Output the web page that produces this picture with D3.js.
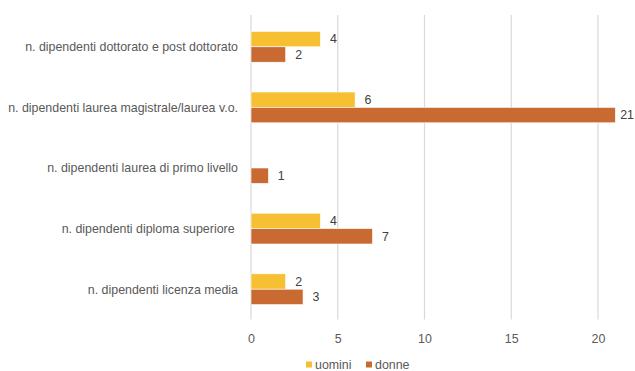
<!DOCTYPE html>
<html>
<head>
<meta charset="utf-8">
<script src="https://cdn.jsdelivr.net/npm/d3@7"></script>
<style>
  html, body { margin: 0; padding: 0; background: #fff; }
  svg { display: block; font-family: "Liberation Sans", Arial, sans-serif; }
</style>
</head>
<body>
<svg id="chart" width="635" height="371"></svg>
<script>
// Categories, top to bottom
const categories = [
  "n. dipendenti dottorato e post dottorato",
  "n. dipendenti laurea magistrale/laurea v.o.",
  "n. dipendenti laurea di primo livello",
  "n. dipendenti diploma superiore ",
  "n. dipendenti licenza media"
];
const uomini = [4, 6, null, 4, 2];
const donne  = [2, 21, 1, 7, 3];
const seriesNames = ["uomini", "donne"];
const xTicks = [0, 5, 10, 15, 20];

const colors = { uomini: "#F7C033", donne: "#C96A33" };

const svg = d3.select("#chart");
const W = 635, H = 371;
const margin = { top: 16.5, right: 0, bottom: 51.5, left: 251 };
const plotBottom = H - margin.bottom;
const fontSize = 12.4;

const x = d3.scaleLinear().domain([0, 20]).range([margin.left, 598]);
const y = d3.scaleBand().domain(categories).range([margin.top, plotBottom]);
// each bar takes about a quarter of its category band
const barH = y.bandwidth() * 0.254;
const inner = d3.scaleBand().domain(seriesNames)
  .range([y.bandwidth() / 2 - barH, y.bandwidth() / 2 + barH]);

// vertical gridlines
svg.append("g")
  .selectAll("line")
  .data(xTicks)
  .join("line")
  .attr("x1", d => x(d)).attr("x2", d => x(d))
  .attr("y1", 15).attr("y2", plotBottom)
  .attr("stroke", "#D9D9D9").attr("stroke-width", 1.2);

// x axis labels
const xAxis = d3.axisBottom(x).tickValues(xTicks).tickSize(0).tickPadding(0);
const gx = svg.append("g").attr("transform", `translate(0,${plotBottom + 23})`).call(xAxis);
gx.select(".domain").remove();
gx.selectAll("text").attr("fill", "#595959").attr("font-size", fontSize)
  .attr("font-family", "Liberation Sans, Arial, sans-serif").attr("dy", "0");

// category labels
svg.append("g")
  .selectAll("text")
  .data(categories)
  .join("text")
  .attr("x", 238)
  .attr("y", d => y(d) + y.bandwidth() / 2)
  .attr("dy", "0.35em")
  .attr("text-anchor", "end")
  .attr("fill", "#595959")
  .attr("font-size", fontSize)
  .style("white-space", "pre")
  .text(d => d);

// bars
const rows = [];
categories.forEach((c, i) => {
  rows.push({ cat: c, s: "uomini", v: uomini[i] });
  rows.push({ cat: c, s: "donne", v: donne[i] });
});
const present = rows.filter(r => r.v != null);

svg.append("g")
  .selectAll("rect")
  .data(present)
  .join("rect")
  .attr("x", x(0))
  .attr("y", d => y(d.cat) + inner(d.s))
  .attr("width", d => x(d.v) - x(0))
  .attr("height", inner.bandwidth())
  .attr("fill", d => colors[d.s])
  .attr("stroke", "#fff")
  .attr("stroke-width", 0.6);

// value labels, kept inside the drawing width
svg.append("g")
  .selectAll("text")
  .data(present)
  .join("text")
  .attr("y", d => y(d.cat) + inner(d.s) + inner.bandwidth() / 2)
  .attr("dy", "0.35em")
  .attr("fill", "#404040")
  .attr("font-size", fontSize)
  .text(d => d.v)
  .attr("x", function (d) {
    const w = this.getComputedTextLength();
    return Math.min(x(d.v) + 9.5, W - w - 1);
  });

// legend
const legend = svg.append("g").attr("transform", "translate(306,364.5)");
const legendItems = legend.selectAll("g")
  .data(seriesNames)
  .join("g")
  .attr("transform", (d, i) => `translate(${i * 60},0)`);
legendItems.append("rect")
  .attr("x", 0).attr("y", -3).attr("width", 6).attr("height", 6)
  .attr("fill", d => colors[d]);
legendItems.append("text")
  .attr("x", 9).attr("y", 0).attr("dy", "0.35em")
  .attr("fill", "#595959").attr("font-size", fontSize)
  .text(d => d);
</script>
</body>
</html>
